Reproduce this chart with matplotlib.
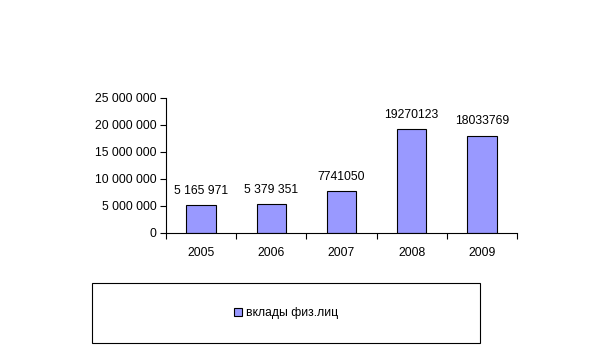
import matplotlib
matplotlib.use("Agg")
import matplotlib.pyplot as plt
from matplotlib.patches import Rectangle
from matplotlib.ticker import FuncFormatter

# deposits of individuals by year
years = ["2005", "2006", "2007", "2008", "2009"]
deposits = [5165971, 5379351, 7741050, 19270123, 18033769]
value_labels = ["5 165 971", "5 379 351", "7741050", "19270123", "18033769"]
series_name = "вклады физ.лиц"

plt.rcParams["font.family"] = ["Liberation Sans", "DejaVu Sans"]
plt.rcParams["font.size"] = 8.7

fig = plt.figure(figsize=(6.11, 3.49), dpi=100)
ax = fig.add_axes([0.2717, 0.3324, 0.5743, 0.3868])

x = range(len(years))
bars = ax.bar(x, deposits, width=0.42, color="#9999ff", edgecolor="black",
              linewidth=0.8, label=series_name)
ax.bar_label(bars, labels=value_labels, padding=6, fontsize=8.7)

ax.set_xlim(-0.5, len(years) - 0.5)
ax.set_ylim(0, 25000000)
ax.set_yticks(range(0, 25000001, 5000000))
ax.yaxis.set_major_formatter(FuncFormatter(lambda v, p: f"{int(v):,}".replace(",", " ")))

# category ticks sit between the bars
ax.set_xticks([i - 0.5 for i in range(len(years) + 1)])
ax.set_xticklabels([])
ax.set_xticks(list(x), minor=True)
ax.set_xticklabels(years, minor=True)
ax.tick_params(axis="x", which="minor", length=0, pad=10)
ax.tick_params(axis="x", which="major", length=4, width=0.8)
ax.tick_params(axis="y", length=4, width=0.8, pad=3)

for side in ["top", "right"]:
    ax.spines[side].set_visible(False)
for side in ["left", "bottom"]:
    ax.spines[side].set_linewidth(0.8)

# legend box below the plot
fig.patches.append(Rectangle((0.1506, 0.0172), 0.635, 0.1718, transform=fig.transFigure,
                             fill=False, edgecolor="black", linewidth=0.8))
fig.legend(handles=[bars], labels=[series_name], loc="center",
           bbox_to_anchor=(0.468, 0.103), frameon=False,
           handlelength=0.7, handleheight=0.7, handletextpad=0.3, fontsize=8.7)

fig.savefig("out.png", dpi=100)
